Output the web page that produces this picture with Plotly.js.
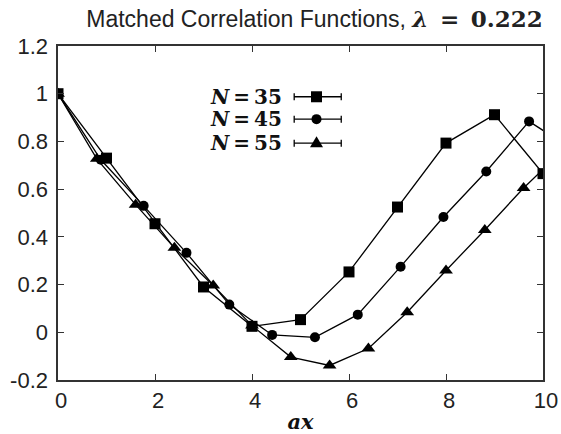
<!DOCTYPE html>
<html>
<head>
<meta charset="utf-8">
<script src="https://cdn.plot.ly/plotly-3.0.1.min.js"></script>
<style>html,body{margin:0;padding:0;background:#fff;}#plot{width:561px;height:434px;}</style>
</head>
<body>
<div id="plot"></div>
<script>
// ---- data ----
const seriesNames = ['N = 35', 'N = 45', 'N = 55'];
const xN35 = [0, 1, 2, 3, 4, 5, 6, 7, 8, 9, 10];
const yN35 = [1, 0.73, 0.455, 0.19, 0.025, 0.053, 0.253, 0.525, 0.793, 0.912, 0.665];
const xN45 = [0, 0.883, 1.766, 2.649, 3.532, 4.415, 5.298, 6.181, 7.064, 7.947, 8.83, 9.713, 10.596];
const yN45 = [1, 0.723, 0.53, 0.333, 0.116, -0.011, -0.021, 0.074, 0.275, 0.483, 0.674, 0.884, 0.768];
const xN55 = [0, 0.8, 1.6, 2.4, 3.2, 4.0, 4.8, 5.6, 6.4, 7.2, 8.0, 8.8, 9.6, 10.4];
const yN55 = [1, 0.727, 0.535, 0.354, 0.196, 0.028, -0.104, -0.139, -0.068, 0.084, 0.259, 0.429, 0.605, 0.76];
const xTickVals = [0, 2, 4, 6, 8, 10];
const xTickText = ['0', '2', '4', '6', '8', '10'];
const yTickVals = [-0.2, 0, 0.2, 0.4, 0.6, 0.8, 1, 1.2];
const yTickText = ['-0.2', '0', '0.2', '0.4', '0.6', '0.8', '1', '1.2'];

const symbols = ['square', 'circle', 'triangle-up'];
const sizes = [11, 10, 12];
const xs = [xN35, xN45, xN55];
const ys = [yN35, yN45, yN55];

const traces = xs.map((x, i) => ({
  type: 'scatter', mode: 'lines+markers', name: seriesNames[i],
  x: x, y: ys[i], cliponaxis: true,
  line: {color: '#000', width: 1.3},
  marker: {symbol: symbols[i], size: sizes[i], color: '#000'},
  showlegend: false
}));

// ---- hand-drawn legend (text on the left, sample on the right) ----
const legRowY = [0.848, 0.781, 0.709];
const legX0 = 0.487, legX1 = 0.584, legXm = 0.533, legTextX = 0.466;
const shapes = [];
const annotations = [];
const serif = 'DejaVu Serif';
const thin = '\u2009';
const en = '\u2002';
legRowY.forEach((yy, i) => {
  shapes.push({type: 'line', xref: 'paper', yref: 'paper', x0: legX0, x1: legX1, y0: yy, y1: yy, line: {color: '#000', width: 1.3}});
  [legX0, legX1].forEach(xc => shapes.push({type: 'line', xref: 'paper', yref: 'paper', ysizemode: 'pixel', yanchor: yy, x0: xc, x1: xc, y0: -3.5, y1: 3.5, line: {color: '#000', width: 1.3}}));
  const base = {xref: 'paper', yref: 'paper', xsizemode: 'pixel', ysizemode: 'pixel', xanchor: legXm, yanchor: yy, fillcolor: '#000', line: {color: '#000', width: 0}};
  if (i === 0) shapes.push(Object.assign({type: 'rect', x0: -5.5, x1: 5.5, y0: -5.5, y1: 5.5}, base));
  if (i === 1) shapes.push(Object.assign({type: 'circle', x0: -5, x1: 5, y0: -5, y1: 5}, base));
  if (i === 2) shapes.push(Object.assign({type: 'path', path: 'M-6.5,-4 L6.5,-4 L0,7 Z'}, base));
  const parts = seriesNames[i].split(' = ');
  annotations.push({xref: 'paper', yref: 'paper', x: legTextX, y: yy, xanchor: 'right', yanchor: 'middle', showarrow: false,
    text: '<b><i>' + parts[0] + '</i>' + thin + '=' + thin + parts[1] + '</b>', font: {family: serif, size: 20, color: '#111'}});
});

const axisCommon = {
  showline: true, mirror: 'ticks', linecolor: '#333', linewidth: 1.6,
  ticks: 'inside', ticklen: 6, tickwidth: 1, tickcolor: '#333',
  showgrid: false, zeroline: false,
  tickfont: {family: 'Liberation Sans', size: 22, color: '#222'}
};

const layout = {
  width: 561, height: 434,
  margin: {l: 58, r: 18, t: 46, b: 54},
  paper_bgcolor: '#fff', plot_bgcolor: '#fff',
  title: {text: 'Matched Correlation Functions, <span style="font-family:DejaVu Serif;font-size:23px"><b><i>λ</i>' + en + '=' + en + '0.222</b></span>',
    font: {family: 'Liberation Sans', size: 23, color: '#222'},
    xref: 'container', x: 0.5606, xanchor: 'center', yref: 'container', y: 0.956, yanchor: 'middle'},
  xaxis: Object.assign({}, axisCommon, {range: [0, 10], tickmode: 'array', tickvals: xTickVals, ticktext: xTickText,
    ticklabelshift: 3, ticklabelstandoff: 0,
    title: {text: '<b><i>ax</i></b>', font: {family: serif, size: 21, color: '#111'}, standoff: 2}}),
  yaxis: Object.assign({}, axisCommon, {range: [-0.2, 1.2], tickmode: 'array', tickvals: yTickVals, ticktext: yTickText,
    ticklabelstandoff: 4}),
  shapes: shapes, annotations: annotations,
  showlegend: false
};

Plotly.newPlot('plot', traces, layout, {staticPlot: true, displayModeBar: false});
</script>
</body>
</html>
